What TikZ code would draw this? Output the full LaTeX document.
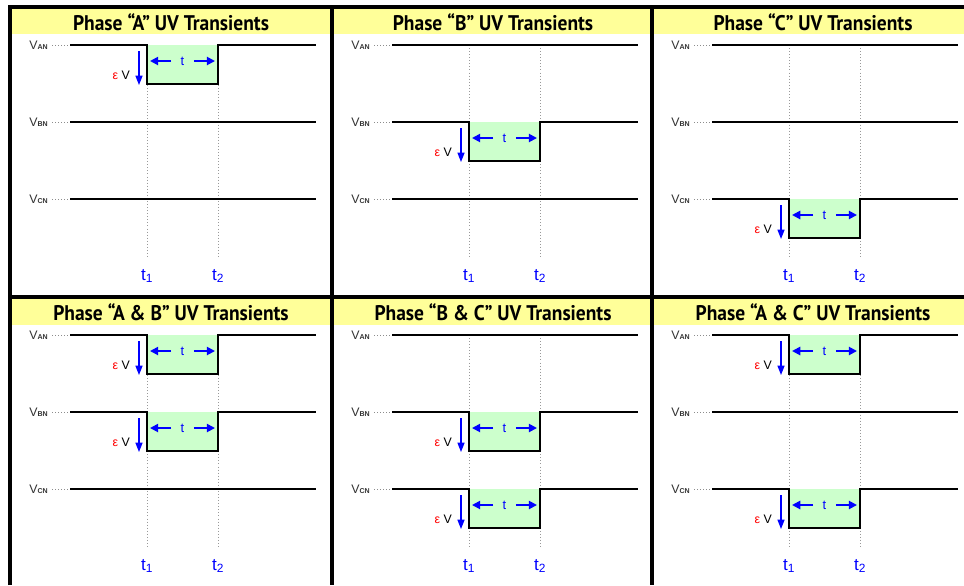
\documentclass[tikz,border=0pt]{standalone}
\usepackage{fontspec}
\setmainfont{Liberation Sans}
\newfontfamily\headfont[FakeStretch=0.92]{PT Sans}
\usetikzlibrary{arrows.meta}

\definecolor{hdryellow}{RGB}{255,255,153}
\definecolor{pulsegreen}{RGB}{204,255,204}
\definecolor{tblue}{RGB}{0,0,255}

\tikzset{
  frame/.style={line width=3pt},
  sig/.style={line width=2.4pt, line join=miter},
  marker/.style={black!40, dotted, line width=0.6pt},
  lead/.style={black!45, dotted, line width=0.6pt},
  span/.style={tblue, line width=1.6pt, -{Triangle[length=7pt,width=7pt]}},
  drop/.style={tblue, line width=1.1pt, -{Triangle[length=8pt,width=6pt]}},
  vlab/.style={text=black!80, inner sep=0pt, font=\fontsize{10.5}{11}\selectfont},
  epslab/.style={inner sep=0pt, font=\fontsize{10.5}{11}\selectfont},
  spanlab/.style={text=tblue, inner xsep=8pt, inner ysep=0pt, font=\fontsize{11}{12}\selectfont},
  tlab/.style={text=tblue, inner sep=0pt, font=\fontsize{14.5}{15}\selectfont},
  title/.style={inner sep=0pt, font=\headfont\bfseries\fontsize{18}{19}\selectfont},
}

% one signal row: #1 panel, #2 row y, #3 subscript, #4 dip (1) or flat (0)
\newcommand\uvrow[4]{%
  \node[vlab, anchor=east] (#1-#3) at (38,#2) {V{\fontsize{6}{6}\selectfont\bfseries #3}};
  \draw[lead] (42,#2) -- (58,#2);
  \ifnum#4=1
    \fill[pulsegreen] (137,#2) rectangle (208,#2+39);
    \draw[sig] (60,#2) -- (137,#2) -- (137,#2+39) -- (208,#2+39) -- (208,#2) -- (306,#2);
    \node[spanlab] (#1-#3-t) at (172.5,#2+16) {t};
    \draw[span] (#1-#3-t.west) -- (140,#2+16);
    \draw[span] (#1-#3-t.east) -- (205,#2+16);
    \draw[drop] (129,#2+6) -- (129,#2+40);
    \node[epslab, anchor=east] (#1-#3-e) at (120,#2+30) {\textcolor{red}{ε}\ V};
  \else
    \draw[sig] (60,#2) -- (306,#2);
  \fi}

\begin{document}
\begin{tikzpicture}[x=0.85pt, y=-0.85pt]
  \useasboundingbox (0,0) rectangle (964,585);
  % title bands
  \fill[hdryellow] (10,7) rectangle (964,34);
  \fill[hdryellow] (10,297) rectangle (964,325);
  % grid
  \draw[frame] (10,585) -- (10,7) -- (964,7);
  \draw[frame] (10,297) -- (964,297);
  \draw[frame] (332,7) -- (332,585);
  \draw[frame] (652,7) -- (652,585);
  % the six panels
  \foreach \p/\px/\py/\ttl/\fa/\fb/\fc in {
      pa/10/7/{Phase “A” UV Transients}/1/0/0,
      pb/332/7/{Phase “B” UV Transients}/0/1/0,
      pc/652/7/{Phase “C” UV Transients}/0/0/1,
      pab/10/297/{Phase “A \& B” UV Transients}/1/1/0,
      pbc/332/297/{Phase “B \& C” UV Transients}/0/1/1,
      pac/652/297/{Phase “A \& C” UV Transients}/1/0/1}{
    \begin{scope}[shift={(\px,\py)}]
      \node[title] (\p) at (161,15) {\ttl};
      \draw[marker] (137,38) -- (137,250);
      \draw[marker] (208,38) -- (208,250);
      \uvrow{\p}{38}{AN}{\fa}
      \uvrow{\p}{115}{BN}{\fb}
      \uvrow{\p}{192}{CN}{\fc}
      \node[tlab] (\p-t1) at (137,269) {t\textsubscript{1}};
      \node[tlab] (\p-t2) at (208,269) {t\textsubscript{2}};
    \end{scope}
  }
\end{tikzpicture}
\end{document}
